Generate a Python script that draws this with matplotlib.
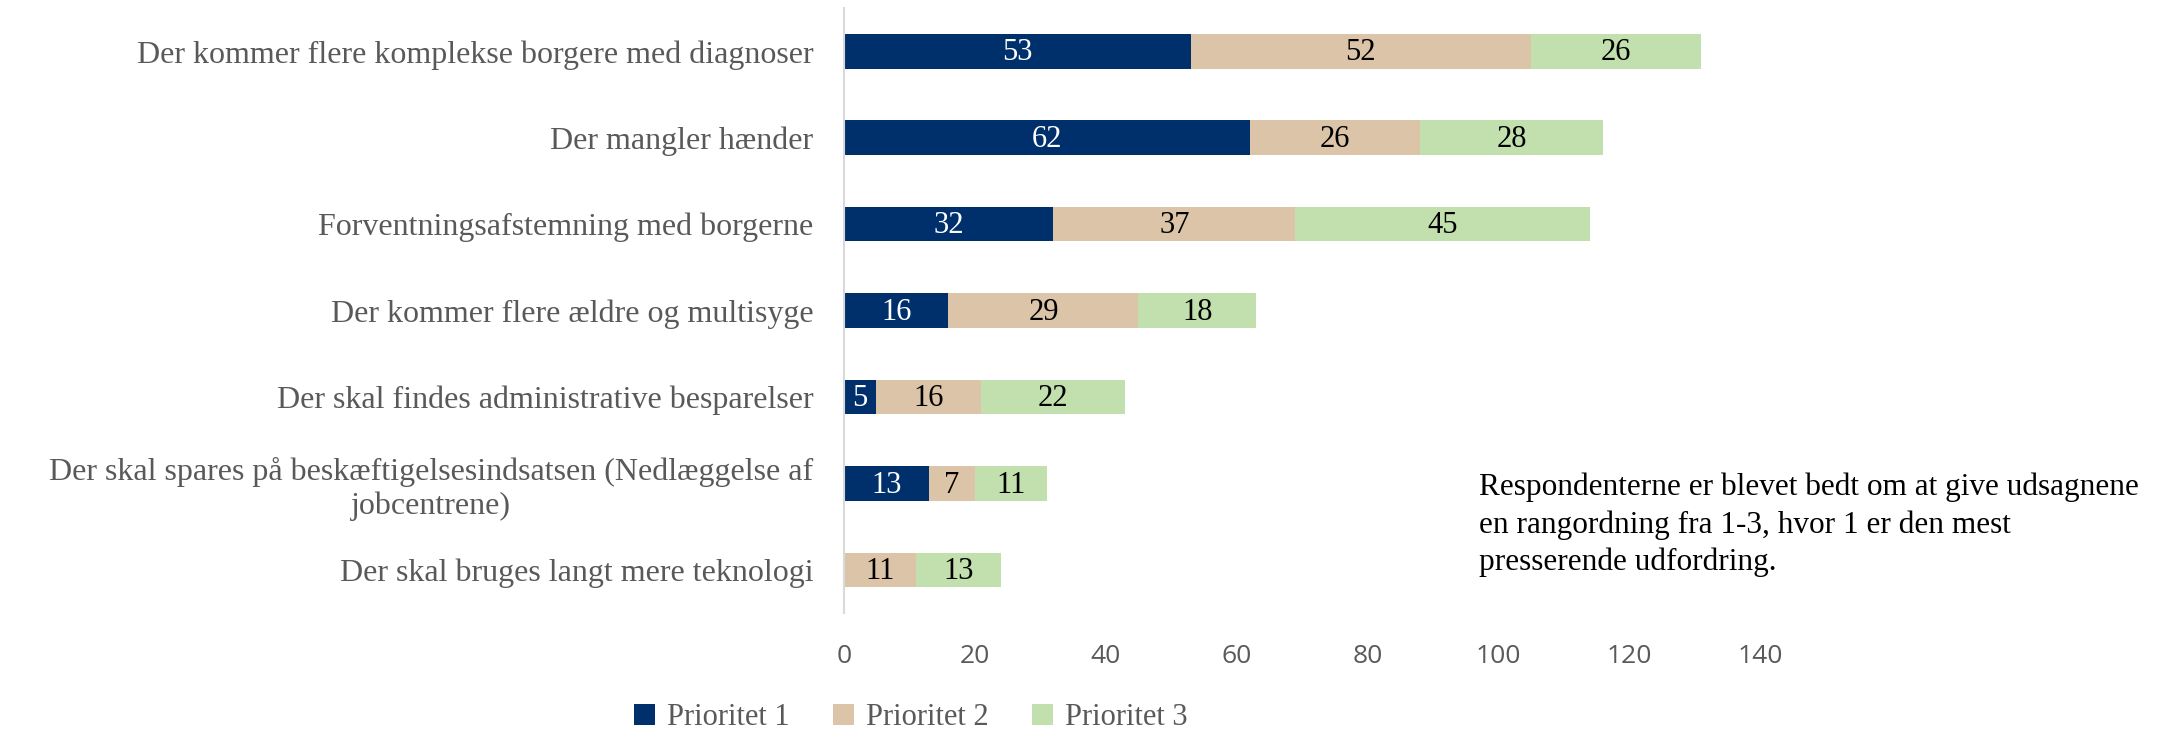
#!/usr/bin/env python3

import matplotlib
matplotlib.use("Agg")
import matplotlib.pyplot as plt
import numpy as np

# Categories (top to bottom) and counts per priority
categories = [
	"Der kommer flere komplekse borgere med diagnoser",
	"Der mangler hænder",
	"Forventningsafstemning med borgerne",
	"Der kommer flere ældre og multisyge",
	"Der skal findes administrative besparelser",
	"Der skal spares på beskæftigelsesindsatsen (Nedlæggelse af\njobcentrene)",
	"Der skal bruges langt mere teknologi",
]
prio1 = [53, 62, 32, 16, 5, 13, 0]
prio2 = [52, 26, 37, 29, 16, 7, 11]
prio3 = [26, 28, 45, 18, 22, 11, 13]
series_names = ["Prioritet 1", "Prioritet 2", "Prioritet 3"]
x_ticks = [0, 20, 40, 60, 80, 100, 120, 140]

note = ("Respondenterne er blevet bedt om at give udsagnene\n"
	"en rangordning fra 1-3, hvor 1 er den mest\n"
	"presserende udfordring.")

colors = ["#00306B", "#DBC4A8", "#C2DFAE"]
text_colors = ["white", "black", "black"]
serif = ["Liberation Serif", "DejaVu Serif"]
grey = "#595959"

fig = plt.figure(figsize=(21.69, 7.31), dpi=100)
ax = fig.add_axes([0.389, 0.1614, 0.4225, 0.8276])

y = np.arange(len(categories))
left = np.zeros(len(categories))
for vals, name, col, tcol in zip([prio1, prio2, prio3], series_names, colors, text_colors):
	vals = np.array(vals, dtype=float)
	bars = ax.barh(y, vals, left=left, height=0.4, color=col, label=name)
	for b, v in zip(bars, vals):
		if v > 0:
			ax.text(b.get_x() + b.get_width() / 2, b.get_y() + b.get_height() / 2 + 0.02,
				f"{int(v)}", ha="center", va="center", color=tcol,
				fontsize=22, family=serif)
	left += vals

ax.set_ylim(len(categories) - 0.5, -0.5)
ax.set_xlim(0, 140)
ax.set_xticks(x_ticks)
ax.set_yticks(y)
ax.set_yticklabels(categories, family=serif, fontsize=23, color=grey)
for lab in ax.get_yticklabels():
	lab.set_multialignment("center")
ax.tick_params(axis="y", length=0, pad=22)
ax.tick_params(axis="x", length=0, pad=22, labelsize=19, labelcolor=grey)
for lab in ax.get_xticklabels():
	lab.set_family(["Open Sans", "DejaVu Sans"])

for s in ["top", "right", "bottom"]:
	ax.spines[s].set_visible(False)
ax.spines["left"].set_color("#D9D9D9")
ax.spines["left"].set_linewidth(1.5)

fig.text(0.682, 0.353, note, ha="left", va="top", fontsize=22.5,
	family=serif, color="black", linespacing=1.35)

leg = fig.legend(loc="center", bbox_to_anchor=(0.42, 0.018), ncol=3, frameon=False,
	handlelength=0.7, handleheight=0.7, handletextpad=0.4, columnspacing=1.4,
	prop={"family": serif, "size": 22})
for t in leg.get_texts():
	t.set_color(grey)

fig.savefig("out.png", dpi=100)
